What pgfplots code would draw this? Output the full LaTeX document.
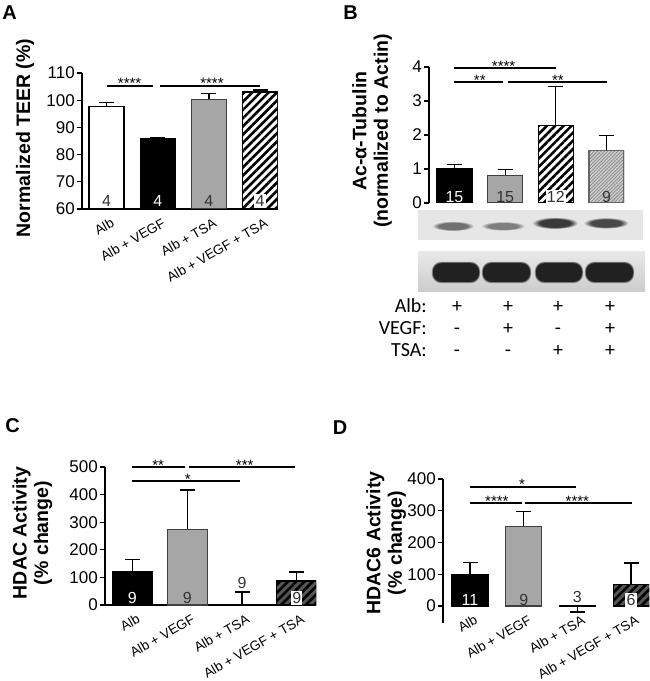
\documentclass[border=0pt]{standalone}
\usepackage{pgfplots}
\pgfplotsset{compat=1.18}
\usepackage{fontspec}
\setmainfont{Liberation Sans}
\newfontfamily\calib{Carlito}
\usetikzlibrary{patterns.meta}
\definecolor{barg}{HTML}{A6A6A6}
\definecolor{hdark}{HTML}{555555}
\definecolor{hlight}{HTML}{D2D2D2}
\definecolor{hlightl}{HTML}{8C8C8C}
\definecolor{bandc}{HTML}{505050}
\definecolor{bgc}{HTML}{E6E6E6}
\pgfdeclareradialshading[bandc,bgc]{bandsh}{\pgfpoint{0bp}{0bp}}{color(0bp)=(bandc); color(17bp)=(bandc); color(25bp)=(bgc); color(50bp)=(bgc)}

\pgfplotsset{
  panel/.style={
    scale only axis, clip mode=individual,
    axis lines=left,
    axis line style={-, line width=1.3pt, black},
    tick align=outside,
    major tick length=5pt,
    ytick style={line width=1.3pt, black},
    xtick style={draw=none},
    /pgf/number format/assume math mode=true,
    yticklabel style={font=\fontsize{17}{17}\selectfont, inner sep=2pt},
    xtick={0,1,2,3},
    xticklabels={Alb, Alb + VEGF, Alb + TSA, Alb + VEGF + TSA},
    xticklabel style={font=\fontsize{13.5}{13.5}\selectfont, xshift=4pt, yshift=#1, rotate=30, anchor=north east, inner sep=1pt},
    error bars/y dir=plus, error bars/y explicit,
    error bars/error bar style={line width=1.3pt, black},
    error bars/error mark options={rotate=90, mark size=7.5pt, line width=1.3pt, black},
  },
  panel/.default=-2pt,
  bars/.style={ybar, bar width=#1, bar shift=0pt, line width=1.2pt},
}
\tikzset{
  nl/.style={font=\fontsize{16}{16}\selectfont, inner sep=1.2pt},
  sig/.style={line width=2pt},
  star/.style={font=\fontsize{15}{15}\selectfont, anchor=base, yshift=-3pt, inner sep=0pt},
  hatch/.style={preaction={fill=white}, pattern={Lines[angle=45,distance=5.8pt,line width=2.6pt]}, pattern color=black},
  darkhatch/.style={preaction={fill=hdark}, pattern={Lines[angle=45,distance=5.8pt,line width=2.6pt]}, pattern color=black},
  lighthatch/.style={preaction={fill=hlight}, pattern={Lines[angle=45,distance=2.4pt,line width=0.9pt]}, pattern color=hlightl},
}

\begin{document}
\begin{tikzpicture}[x=1pt,y=1pt]
\useasboundingbox (0,0) rectangle (649,681);

% ---------- Panel A ----------
\begin{axis}[panel, at={(82pt,472pt)}, anchor=south west,
  width=195.5pt, height=136pt, xmin=-0.48, xmax=3.34, ymin=60, ymax=110,
  ytick={60,70,...,110}]
\addplot[bars=35pt, fill=white, draw=black] coordinates {(0,97.7) +- (0,1.5)};
\addplot[bars=35pt, fill=black, draw=black] coordinates {(1,86.0) +- (0,0.3)};
\addplot[bars=35pt, fill=barg, draw=black!75] coordinates {(2,100.3) +- (0,2.1)};
\addplot[bars=35pt, hatch, draw=black] coordinates {(3,103.0) +- (0,0.7)};
\node[nl, text=black!80] at (axis cs:0,63) {4};
\node[nl, text=white] at (axis cs:1,63) {4};
\node[nl, text=black!80] at (axis cs:2,63) {4};
\node[nl, text=black!80, fill=white] at (axis cs:3,63) {4};
\draw[sig] (axis cs:0,105.3) -- (axis cs:0.91,105.3);
\draw[sig] (axis cs:1.04,105.3) -- (axis cs:3,105.3);
\node[star] at (axis cs:0.45,105.3) {****};
\node[star] at (axis cs:2.06,105.3) {****};
\end{axis}

% ---------- Panel B ----------
\begin{axis}[panel, at={(429pt,478pt)}, anchor=south west,
  width=195pt, height=136pt, xmin=-0.503, xmax=3.345, ymin=0, ymax=4,
  ytick={0,1,2,3,4}, xtick=\empty, x axis line style={draw=none}]
\addplot[bars=35pt, fill=black, draw=black] coordinates {(0,1.00) +- (0,0.13)};
\addplot[bars=35pt, fill=barg, draw=black!75] coordinates {(1,0.82) +- (0,0.16)};
\addplot[bars=35pt, hatch, draw=black] coordinates {(2,2.27) +- (0,1.15)};
\addplot[bars=35pt, lighthatch, draw=black!60] coordinates {(3,1.55) +- (0,0.43)};
\node[nl, text=white] at (axis cs:0,0.17) {15};
\node[nl, text=black!80] at (axis cs:1,0.17) {15};
\node[nl, text=black!80, fill=white] at (axis cs:2,0.17) {12};
\node[nl, text=black!80] at (axis cs:3,0.17) {9};
\draw[line width=2.5pt] (axis cs:0,3.97) -- (axis cs:2,3.97);
\node[star] at (axis cs:0.97,3.97) {****};
\draw[sig] (axis cs:0,3.55) -- (axis cs:0.96,3.55);
\draw[sig] (axis cs:1.055,3.55) -- (axis cs:3,3.55);
\node[star] at (axis cs:0.5,3.55) {**};
\node[star] at (axis cs:2.04,3.55) {**};
\end{axis}

% ---------- Panel C ----------
\begin{axis}[panel, at={(105pt,76pt)}, anchor=south west,
  width=211pt, height=138pt, xmin=-0.50, xmax=3.35, ymin=0, ymax=500,
  ytick={0,100,...,500}]
\addplot[bars=40pt, fill=black, draw=black] coordinates {(0,120) +- (0,45)};
\addplot[bars=40pt, fill=barg, draw=black!75] coordinates {(1,275) +- (0,142)};
\addplot[bars=40pt, fill=white, draw=black] coordinates {(2,3) +- (0,44)};
\addplot[bars=40pt, darkhatch, draw=black] coordinates {(3,87) +- (0,33)};
\node[nl, text=white] at (axis cs:0,25) {9};
\node[nl, text=black!80] at (axis cs:1,25) {9};
\node[nl, text=black!80] at (axis cs:2,80) {9};
\node[nl, text=black!80, fill=white] at (axis cs:3,25) {9};
\draw[sig] (axis cs:0,500) -- (axis cs:0.96,500);
\draw[sig] (axis cs:1.03,500) -- (axis cs:2.97,500);
\draw[sig] (axis cs:0,449) -- (axis cs:1.96,449);
\node[star] at (axis cs:0.47,500) {**};
\node[star] at (axis cs:2.05,500) {***};
\node[star] at (axis cs:1.01,449) {*};
\end{axis}

% ---------- Panel D ----------
\begin{axis}[panel=15pt, at={(443pt,58pt)}, anchor=south west,
  width=206pt, height=144pt, xmin=-0.503, xmax=3.333, ymin=-53.5, ymax=400,
  ytick={0,100,...,400}, x axis line style={draw=none}]
\addplot[bars=36pt, fill=black, draw=black] coordinates {(0,100) +- (0,38)};
\addplot[bars=36pt, fill=barg, draw=black!75] coordinates {(1,251) +- (0,47)};
\addplot[bars=36pt, fill=white, draw=black, error bars/y dir=minus] coordinates {(2,-2) +- (0,17)};
\addplot[bars=36pt, darkhatch, draw=black] coordinates {(3,69) +- (0,66)};
\node[nl, text=white] at (axis cs:0,20) {11};
\node[nl, text=black!80] at (axis cs:1,20) {9};
\node[nl, text=black!80] at (axis cs:2,28) {3};
\node[nl, text=black!80, fill=white] at (axis cs:3,20) {6};
\draw[sig] (axis cs:0,375) -- (axis cs:1.97,375);
\draw[sig] (axis cs:0,324) -- (axis cs:0.97,324);
\draw[sig] (axis cs:1.02,324) -- (axis cs:3.02,324);
\node[star] at (axis cs:0.97,375) {*};
\node[star] at (axis cs:0.5,324) {****};
\node[star] at (axis cs:2.0,324) {****};
\end{axis}

% ---------- axis titles and panel letters ----------
\node[rotate=90, font=\fontsize{19.5}{21}\selectfont\bfseries] at (25,543) {Normalized TEER (\%)};
\node[rotate=90, align=center, font=\fontsize{19.5}{21.5}\selectfont\bfseries] at (372,550) {Ac-α-Tubulin\\(normalized to Actin)};
\node[rotate=90, align=center, font=\fontsize{19.5}{21.5}\selectfont\bfseries] at (32.5,148) {HDAC Activity\\(\% change)};
\node[rotate=90, align=center, font=\fontsize{19.5}{21.5}\selectfont\bfseries] at (386,138) {HDAC6 Activity\\(\% change)};
\node[font=\fontsize{20}{20}\selectfont\bfseries] at (9.5,668.5) {A};
\node[font=\fontsize{20}{20}\selectfont\bfseries] at (350.5,668.5) {B};
\node[font=\fontsize{20}{20}\selectfont\bfseries] at (12.5,255) {C};
\node[font=\fontsize{20}{20}\selectfont\bfseries] at (340,253) {D};

% ---------- western blot (decoration) ----------
\fill[bgc] (418,441) rectangle (643,471);
\foreach \cx/\cy/\a/\b/\c in {453/455/21/5.0/707070, 503/455/22/4.6/7E7E7E, 555/458/23/6.0/3A3A3A, 606/458/22.5/5.6/484848}{
  \begin{scope}
    \definecolor{bandc}{HTML}{\c}
    \begin{scope}[shift={(\cx,\cy)}, yscale=\b/\a]
      \shade[shading=bandsh] (0,0) circle (\a);
    \end{scope}
  \end{scope}
}
\shade[top color=black!9, bottom color=black!20] (418,389) rectangle (645,429);
\foreach \xa/\xb in {433/479, 483/530, 536/582, 586/633}{
  \fill[black!45, rounded corners=9.5pt] (\xa-1.2,397.8) rectangle (\xb+1.2,419.2);
  \fill[black!65, rounded corners=9pt] (\xa-0.5,398.5) rectangle (\xb+0.5,418.5);
  \fill[black!87, rounded corners=8.5pt] (\xa,399.2) rectangle (\xb,417.8);
}

% ---------- treatment table ----------
\begin{scope}[font=\calib\fontsize{20}{20}\selectfont]
\node[anchor=base east, inner sep=0pt] at (427,368) {Alb:};
\node[anchor=base east, inner sep=0pt] at (427,346) {VEGF:};
\node[anchor=base east, inner sep=0pt] at (427,324) {TSA:};
\foreach \x/\s in {457/+, 508/+, 558/+, 610/+}{\node[anchor=base, inner sep=0pt] at (\x,368) {\s};}
\foreach \x/\s in {457/-, 508/+, 558/-, 610/+}{\node[anchor=base, inner sep=0pt] at (\x,346) {\s};}
\foreach \x/\s in {457/-, 508/-, 558/+, 610/+}{\node[anchor=base, inner sep=0pt] at (\x,324) {\s};}
\end{scope}
\end{tikzpicture}
\end{document}
